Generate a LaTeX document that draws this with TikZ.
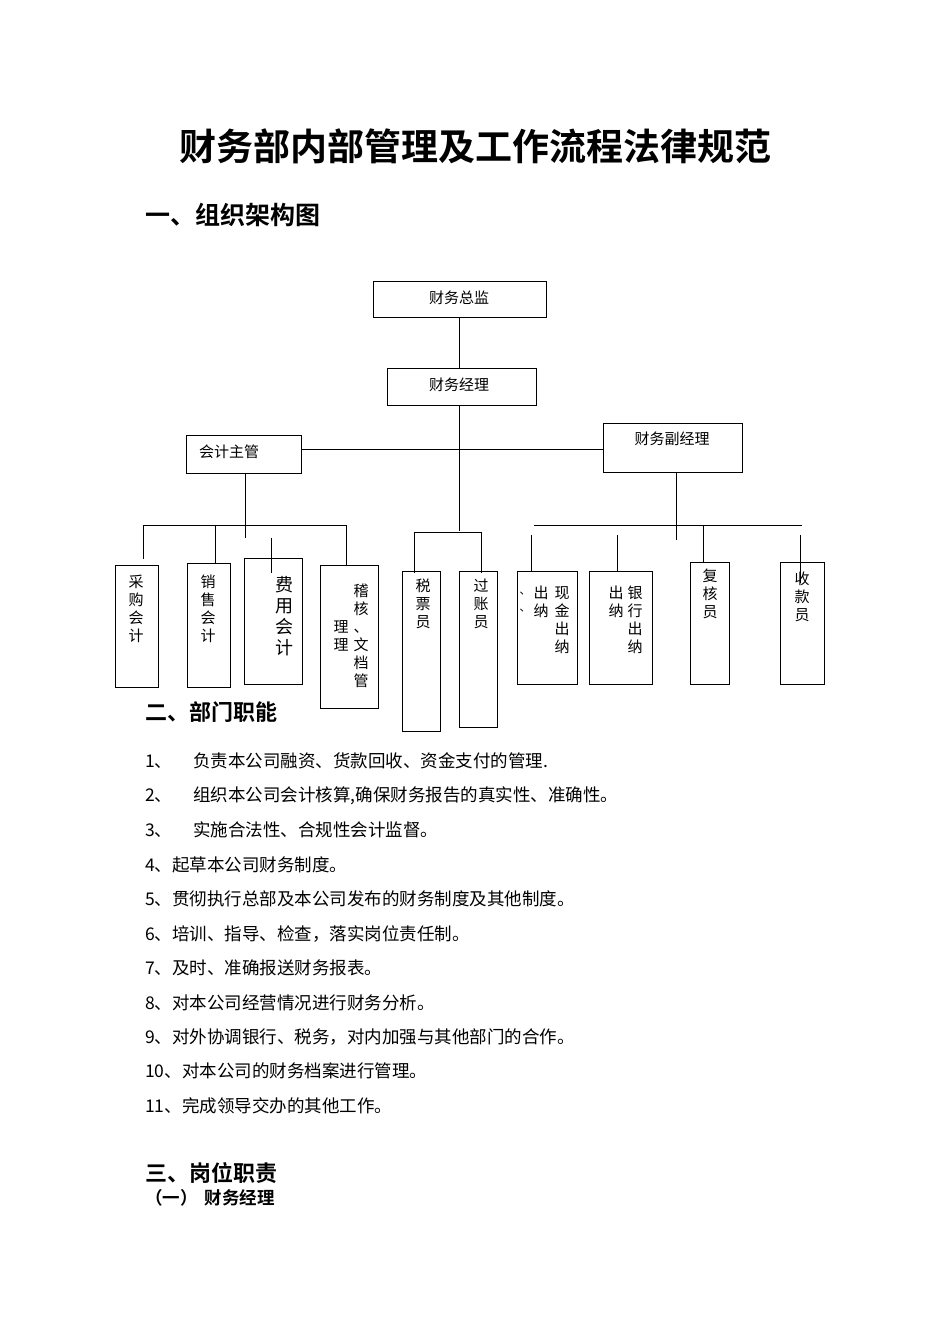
\documentclass[tikz,border=0pt]{standalone}
\usepackage{fontspec}
\setmainfont{Noto Sans CJK SC}
\newfontfamily\cjkb{Noto Sans CJK SC Bold}
\begin{document}
\begin{tikzpicture}[x=1pt,y=-1pt,
  bx/.style={draw,line width=0.9pt},
  ln/.style={line width=0.9pt},
  t/.style={inner sep=0pt,font=\fontsize{15}{17}\selectfont},
  vt/.style={inner sep=0pt,align=center,font=\fontsize{15}{18}\selectfont},
  li/.style={anchor=west,inner sep=0pt,font=\fontsize{17.5}{19}\selectfont}]
\useasboundingbox[fill=white] (0,0) rectangle (950,1344);
\node[inner sep=0pt,font=\cjkb\fontsize{37}{40}\selectfont] (title) at (475,146) {财务部内部管理及工作流程法律规范};
\node[anchor=west,inner sep=0pt,font=\cjkb\fontsize{25}{28}\selectfont] (h1) at (145,215) {一、组织架构图};
% top boxes
\draw[bx] (373,281) rectangle (546,317);
\node[t] (zj) at (459,298) {财务总监};
\draw[bx] (387,368) rectangle (536,405);
\node[t] (jl) at (459,385) {财务经理};
\draw[bx] (186,435) rectangle (301,473);
\node[t,anchor=west] (zg) at (199,452) {会计主管};
\draw[bx] (603,423) rectangle (742,472);
\node[t] (fjl) at (672,439) {财务副经理};
% connectors
\coordinate (a1) at (459,317); \coordinate (a2) at (459,368);
\draw[ln] (a1) -- (a2);
\coordinate (b1) at (459,405); \coordinate (b2) at (459,531);
\draw[ln] (b1) -- (b2);
\coordinate (c1) at (301,449); \coordinate (c2) at (603,449);
\draw[ln] (c1) -- (c2);
% left group
\draw[ln] (245,473) -- (245,538);
\draw[ln] (143,525) -- (347,525);
\draw[ln] (143,525) -- (143,559);
\draw[ln] (215,525) -- (215,563);
\draw[ln] (346,525) -- (346,565);
\draw[ln] (271,538) -- (271,573);
\draw[bx] (115,565) rectangle (158,687);
\node[vt] (cg) at (136,609) {采\\购\\会\\计};
\draw[bx] (187,563) rectangle (230,687);
\node[vt] (xs) at (208,609) {销\\售\\会\\计};
\draw[bx] (244,558) rectangle (302,684);
\node[vt,font=\fontsize{18}{21}\selectfont] (fy) at (284,616) {费\\用\\会\\计};
\draw[bx] (320,565) rectangle (378,708);
\node[vt] (jh) at (361,636) {稽\\核\\、\\文\\档\\管};
\node[vt] (jh2) at (341,636) {理\\理};
% middle group
\draw[ln] (414,532) -- (481,532);
\draw[ln] (414,532) -- (414,573);
\draw[ln] (481,532) -- (481,573);
\draw[bx] (402,571) rectangle (440,731);
\node[vt] (sp) at (423,604) {税\\票\\员};
\draw[bx] (459,571) rectangle (497,727);
\node[vt] (gz) at (481,604) {过\\账\\员};
% right group
\draw[ln] (676,472) -- (676,540);
\draw[ln] (534,525) -- (802,525);
\draw[ln] (531,535) -- (531,571);
\draw[ln] (617,535) -- (617,571);
\draw[ln] (703,525) -- (703,562);
\draw[ln] (800,535) -- (800,583);
\draw[bx] (517,571) rectangle (577,684);
\node[vt] (xj) at (562,620) {现\\金\\出\\纳};
\node[vt] (xj2) at (541,602) {出\\纳};
\node[vt,font=\fontsize{11}{17}\selectfont] (xj3) at (525,602) {、\\、};
\draw[bx] (589,571) rectangle (652,684);
\node[vt] (yh) at (635,620) {银\\行\\出\\纳};
\node[vt] (yh2) at (616,602) {出\\纳};
\draw[bx] (690,562) rectangle (729,684);
\node[vt] (fh) at (710,594) {复\\核\\员};
\draw[bx] (780,562) rectangle (824,684);
\node[vt] (sk) at (802,597) {收\\款\\员};
% section 2
\node[anchor=west,inner sep=0pt,font=\cjkb\fontsize{22}{25}\selectfont] (h2) at (145,712) {二、部门职能};
\node[li] (l1) at (145,761) {1、\hspace{1.2em}负责本公司融资、货款回收、资金支付的管理.};
\node[li] (l2) at (145,796) {2、\hspace{1.2em}组织本公司会计核算,确保财务报告的真实性、准确性。};
\node[li] (l3) at (145,830) {3、\hspace{1.2em}实施合法性、合规性会计监督。};
\node[li] (l4) at (145,865) {4、起草本公司财务制度。};
\node[li] (l5) at (145,899) {5、贯彻执行总部及本公司发布的财务制度及其他制度。};
\node[li] (l6) at (145,934) {6、培训、指导、检查，落实岗位责任制。};
\node[li] (l7) at (145,968) {7、及时、准确报送财务报表。};
\node[li] (l8) at (145,1003) {8、对本公司经营情况进行财务分析。};
\node[li] (l9) at (145,1037) {9、对外协调银行、税务，对内加强与其他部门的合作。};
\node[li] (l10) at (145,1071) {10、对本公司的财务档案进行管理。};
\node[li] (l11) at (145,1106) {11、完成领导交办的其他工作。};
\node[anchor=west,inner sep=0pt,font=\cjkb\fontsize{22}{25}\selectfont] (h3) at (145,1173) {三、岗位职责};
\node[anchor=west,inner sep=0pt,font=\cjkb\fontsize{17.5}{20}\selectfont] (h31) at (145,1198) {（一）\hspace{0.4em}财务经理};
\end{tikzpicture}
\end{document}
